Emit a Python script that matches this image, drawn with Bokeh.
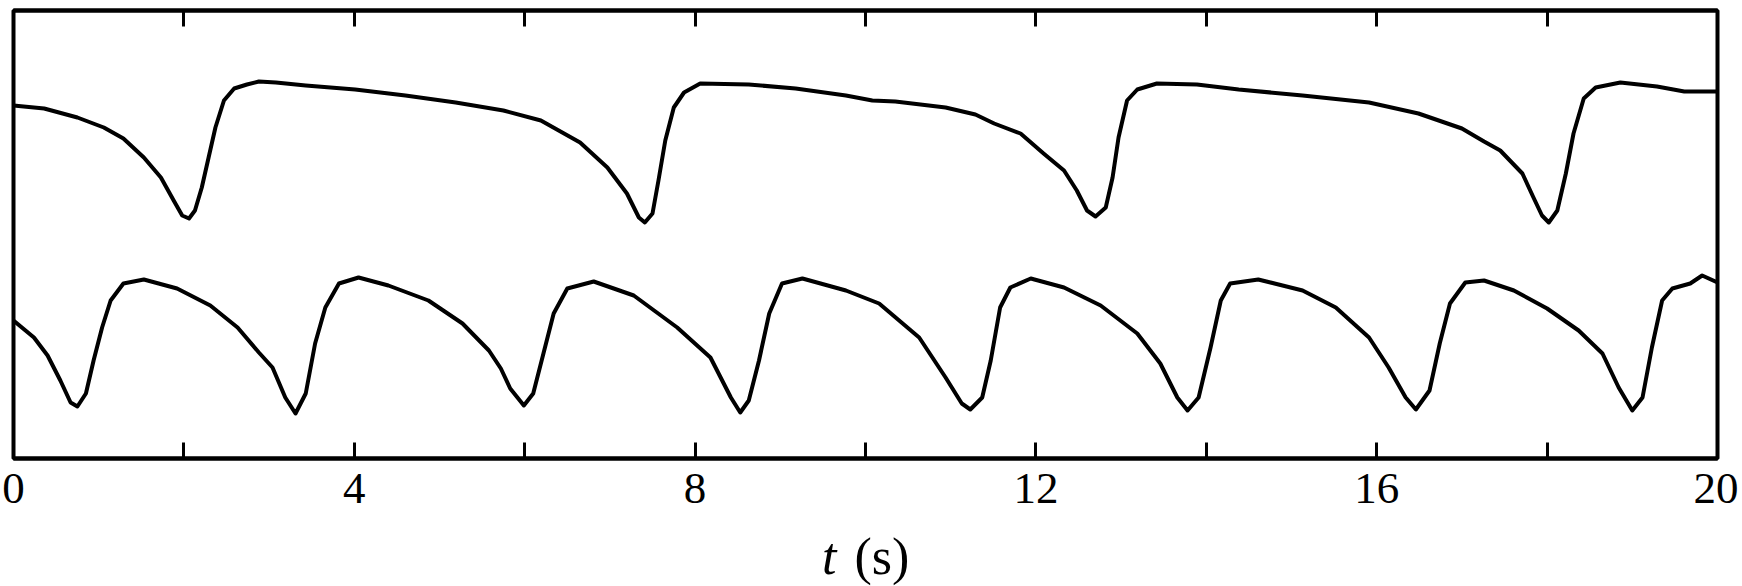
from bokeh.plotting import figure
from bokeh.models import Range1d, LinearAxis, FixedTicker, Div
from bokeh.layouts import column
from bokeh.embed import file_html
from bokeh.resources import INLINE

# ---- data (time in s, amplitude in arbitrary units) ----
t_top = [0.0, 0.36, 0.75, 1.06, 1.29, 1.53, 1.73, 1.88, 1.98, 2.06, 2.13, 2.21, 2.29, 2.37,
         2.47, 2.59, 2.74, 2.88, 3.08, 3.43, 4.01, 4.60, 5.19, 5.75, 6.19, 6.65, 6.97, 7.20,
         7.34, 7.41, 7.50, 7.57, 7.65, 7.75, 7.87, 8.06, 8.63, 9.18, 9.77, 10.08, 10.35, 10.94,
         11.29, 11.51, 11.82, 12.09, 12.33, 12.48, 12.60, 12.70, 12.82, 12.90, 12.97, 13.07,
         13.19, 13.42, 13.89, 14.38, 15.13, 15.91, 16.49, 17.00, 17.26, 17.45, 17.71, 17.84,
         17.94, 18.02, 18.12, 18.22, 18.31, 18.43, 18.57, 18.86, 19.29, 19.61, 20.0]
y_top = [353, 350, 341, 331, 320, 301, 281, 258, 243, 240, 248, 271, 301, 331,
         358, 370, 374, 377, 376, 373, 369, 363, 356, 348, 338, 316, 291, 265,
         241, 236, 245, 278, 318, 351, 366, 375, 374, 370, 363, 358, 357, 351,
         344, 335, 325, 305, 288, 268, 248, 242, 251, 281, 321, 358,
         369, 375, 374, 369, 363, 356, 345, 330, 317, 308, 285, 261,
         243, 236, 248, 285, 325, 360, 371, 376, 372, 367, 367]

t_bot = [0.0, 0.24, 0.40, 0.55, 0.67, 0.75, 0.85, 0.94, 1.04, 1.14, 1.29, 1.53, 1.92, 2.31,
         2.63, 2.88, 3.04, 3.19, 3.31, 3.43, 3.54, 3.66, 3.82, 4.05, 4.40, 4.87, 5.27, 5.58,
         5.72, 5.83, 5.99, 6.10, 6.22, 6.34, 6.50, 6.81, 7.28, 7.79, 8.18, 8.42, 8.53, 8.63,
         8.75, 8.87, 9.02, 9.26, 9.77, 10.16, 10.63, 10.94, 11.13, 11.23, 11.37, 11.47, 11.58,
         11.70, 11.94, 12.33, 12.76, 13.19, 13.46, 13.66, 13.78, 13.91, 14.05, 14.17, 14.28,
         14.61, 15.13, 15.52, 15.91, 16.14, 16.34, 16.46, 16.62, 16.74, 16.86, 17.04, 17.26,
         17.61, 18.00, 18.37, 18.65, 18.84, 19.00, 19.12, 19.23, 19.35, 19.47, 19.68, 19.82, 20.0]
y_bot = [138, 121, 103, 78, 56, 52, 65, 98, 131, 158, 175, 179, 170, 153,
         131, 106, 91, 61, 45, 65, 115, 151, 175, 181, 173, 158, 135, 108,
         90, 70, 53, 65, 105, 145, 170, 177, 163, 131, 101, 61, 46, 58,
         98, 145, 175, 180, 168, 155, 121, 81, 55, 49, 61, 98, 151,
         171, 180, 171, 153, 125, 95, 61, 48, 61, 111, 158, 175,
         179, 168, 151, 121, 91, 61, 49, 68, 115, 155, 176, 178,
         168, 150, 128, 105, 71, 48, 61, 111, 158, 170, 175, 183, 176]

major_ticks = [0, 4, 8, 12, 16, 20]
minor_ticks = [2, 6, 10, 14, 18]
all_ticks = [0, 2, 4, 6, 8, 10, 12, 14, 16, 18, 20]
x_label_var = "t"
x_label_unit = "(s)"

SERIF = "Liberation Serif"

p = figure(width=1738, height=531, output_backend="svg", toolbar_location=None,
           x_range=Range1d(0, 20), y_range=Range1d(0, 448),
           min_border_left=13, min_border_right=21, min_border_top=10, min_border_bottom=73,
           y_axis_location=None)
p.grid.visible = False
p.outline_line_color = "black"
p.outline_line_width = 4
p.background_fill_color = "white"
p.border_fill_color = "white"

ax = p.xaxis[0]
ax.ticker = FixedTicker(ticks=major_ticks, minor_ticks=minor_ticks)
ax.major_tick_in = 16
ax.major_tick_out = 0
ax.minor_tick_in = 16
ax.minor_tick_out = 0
ax.major_tick_line_width = 3
ax.minor_tick_line_width = 3
ax.axis_line_width = 4
ax.major_label_text_font = SERIF
ax.major_label_text_font_size = "45px"
ax.major_label_text_color = "black"
ax.major_label_standoff = 15

# top axis: tick marks only (no major ticks -> no labels)
top = LinearAxis(ticker=FixedTicker(ticks=[], minor_ticks=all_ticks))
top.minor_tick_in = 16
top.minor_tick_out = 0
top.minor_tick_line_width = 3
top.axis_line_width = 4
top.major_label_standoff = 0
p.add_layout(top, "above")

p.line(t_top, y_top, line_color="black", line_width=4, line_join="round")
p.line(t_bot, y_bot, line_color="black", line_width=4, line_join="round")

label_html = (
    '<span style="font-family: \'Liberation Serif\', serif; font-size: 52px; '
    'line-height: 1; color: black; white-space: nowrap;">'
    '<i>%s</i><span style="margin-left: 18px;">%s</span></span>' % (x_label_var, x_label_unit)
)
d = Div(text=label_html, width=1738, height=52,
        styles={"padding-left": "822px", "line-height": "1", "margin": "0"})

layout = column(p, d, spacing=0)
open("out.html", "w").write(file_html(layout, INLINE))
